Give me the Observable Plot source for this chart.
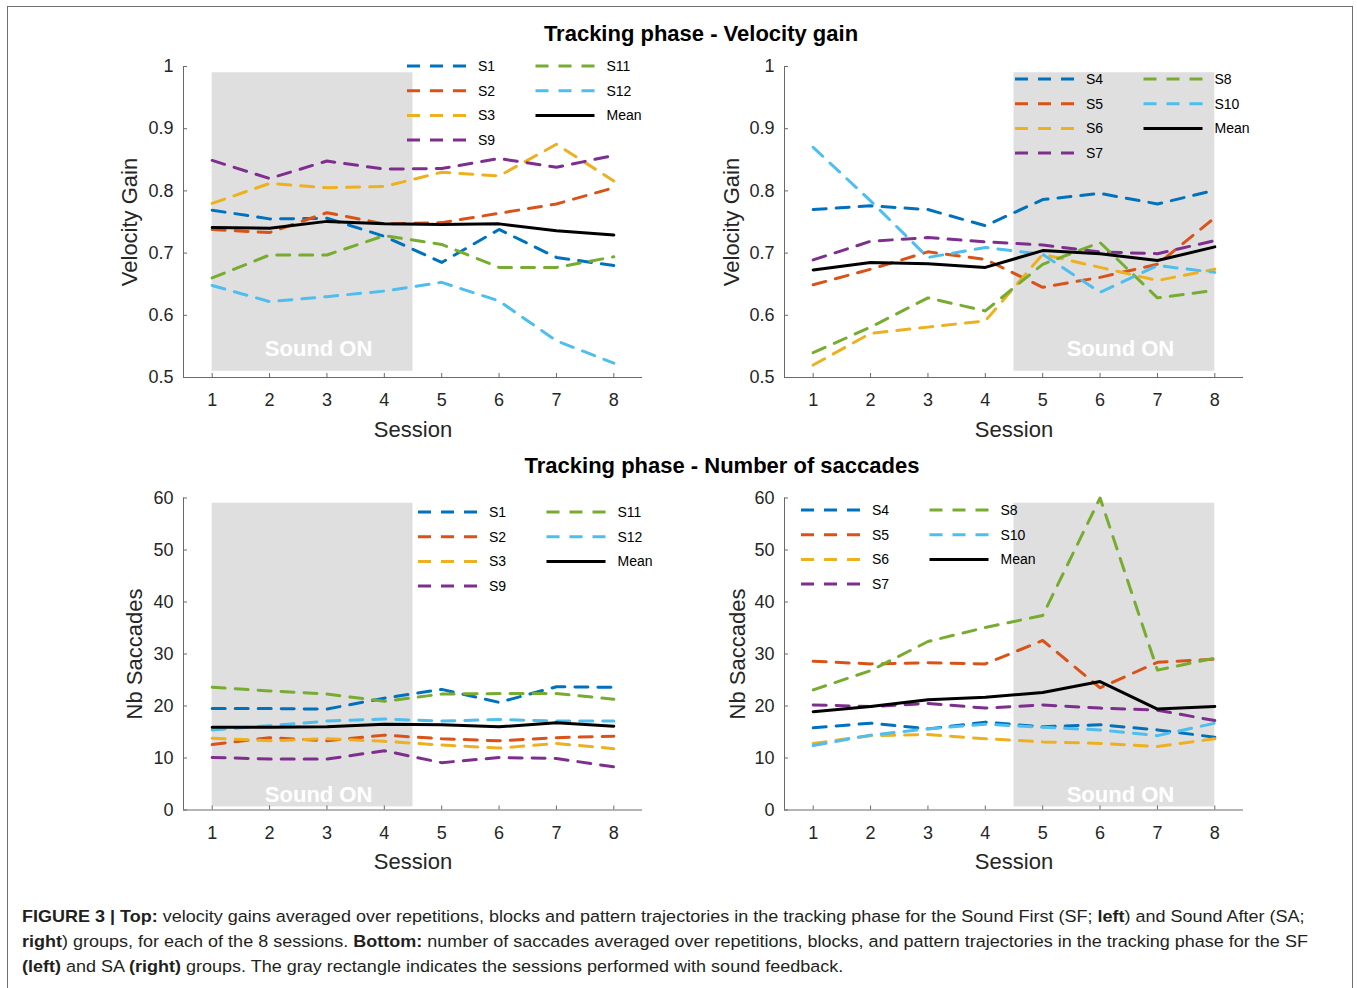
<!DOCTYPE html>
<html>
<head>
<meta charset="utf-8">
<script src="https://cdn.jsdelivr.net/npm/d3@7"></script>
<script src="https://cdn.jsdelivr.net/npm/@observablehq/plot@0.6"></script>
<style>
  html, body { margin: 0; padding: 0; background: #fff; }
  #page { position: relative; width: 1357px; height: 988px; overflow: hidden; background: #fff; }
  #frame { position: absolute; left: 7px; top: 6px; width: 1346px; height: 1100px; border: 1.5px solid #707070; box-sizing: border-box; }
  .panel { position: absolute; }
  #overlay { position: absolute; left: 0; top: 0; z-index: 5; pointer-events: none; }
</style>
</head>
<body>
<div id="page">
  <div id="frame"></div>
  <div id="tl" class="panel" style="left:90px; top:50px;"></div>
  <div id="tr" class="panel" style="left:690px; top:50px;"></div>
  <div id="bl" class="panel" style="left:90px; top:480px;"></div>
  <div id="br" class="panel" style="left:690px; top:480px;"></div>
  <svg id="overlay" width="1357" height="988"></svg>
</div>
<script>
// ---------- data ----------
const sessions = [1, 2, 3, 4, 5, 6, 7, 8];
const gainTicks = [0.5, 0.6, 0.7, 0.8, 0.9, 1];
const saccTicks = [0, 10, 20, 30, 40, 50, 60];
const sfSubjects = ["S1", "S2", "S3", "S9", "S11", "S12"];
const saSubjects = ["S4", "S5", "S6", "S7", "S8", "S10"];
const seriesColors = ["#0072BD", "#D95319", "#EDB120", "#7E2F8E", "#77AC30", "#4DBEEE"];
const titles = ["Tracking phase - Velocity gain", "Tracking phase - Number of saccades"];

// Velocity gain, Sound First group
const gainS1  = [0.769, 0.755, 0.756, 0.727, 0.685, 0.738, 0.693, 0.680];
const gainS2  = [0.738, 0.733, 0.765, 0.747, 0.749, 0.764, 0.779, 0.805];
const gainS3  = [0.780, 0.812, 0.805, 0.807, 0.830, 0.824, 0.875, 0.816];
const gainS9  = [0.849, 0.820, 0.848, 0.835, 0.836, 0.852, 0.838, 0.857];
const gainS11 = [0.660, 0.697, 0.697, 0.728, 0.714, 0.677, 0.677, 0.694];
const gainS12 = [0.648, 0.622, 0.630, 0.639, 0.653, 0.623, 0.559, 0.523];
const gainMeanSF = [0.741, 0.740, 0.751, 0.747, 0.746, 0.747, 0.736, 0.729];

// Velocity gain, Sound After group
const gainS4  = [0.770, 0.776, 0.770, 0.744, 0.786, 0.796, 0.779, 0.801];
const gainS5  = [0.649, 0.674, 0.702, 0.690, 0.645, 0.661, 0.682, 0.757];
const gainS6  = [0.520, 0.571, 0.581, 0.591, 0.698, 0.677, 0.656, 0.674];
const gainS7  = [0.689, 0.719, 0.725, 0.718, 0.713, 0.702, 0.699, 0.720];
const gainS8  = [0.540, 0.581, 0.628, 0.607, 0.682, 0.717, 0.628, 0.640];
const gainS10 = [0.870, 0.784, 0.693, 0.709, 0.698, 0.637, 0.680, 0.669];
const gainMeanSA = [0.673, 0.685, 0.683, 0.677, 0.704, 0.699, 0.688, 0.710];

// Number of saccades, Sound First group
const saccS1  = [19.5, 19.5, 19.4, 21.5, 23.2, 20.7, 23.7, 23.6];
const saccS2  = [12.6, 13.9, 13.3, 14.4, 13.7, 13.3, 13.9, 14.2];
const saccS3  = [13.8, 13.3, 13.7, 13.2, 12.5, 11.9, 12.8, 11.8];
const saccS9  = [10.1, 9.8, 9.8, 11.4, 9.1, 10.1, 9.9, 8.3];
const saccS11 = [23.6, 22.9, 22.3, 20.9, 22.3, 22.4, 22.4, 21.3];
const saccS12 = [15.4, 16.2, 17.1, 17.5, 17.1, 17.4, 17.1, 17.1];
const saccMeanSF = [15.9, 15.9, 16.0, 16.5, 16.4, 16.0, 16.8, 16.1];

// Number of saccades, Sound After group
const saccS4  = [15.8, 16.7, 15.6, 16.9, 16.0, 16.4, 15.4, 14.0];
const saccS5  = [28.6, 28.1, 28.3, 28.1, 32.6, 23.5, 28.4, 29.0];
const saccS6  = [12.8, 14.3, 14.5, 13.7, 13.1, 12.8, 12.2, 13.7];
const saccS7  = [20.2, 19.9, 20.5, 19.6, 20.2, 19.6, 19.2, 17.2];
const saccS8  = [23.1, 26.8, 32.4, 35.1, 37.4, 60.0, 26.9, 29.2];
const saccS10 = [12.4, 14.4, 15.6, 16.5, 15.9, 15.4, 14.3, 16.7];
const saccMeanSA = [18.9, 19.9, 21.2, 21.7, 22.6, 24.7, 19.4, 19.9];

// Sessions with sound feedback (shaded)
const soundOnSF = [1, 4.5];
const soundOnSA = [4.5, 8];
const shadeGain = [0.51, 0.99];
const shadeSacc = [0.6, 59];

// Caption (segments: [text, bold])
const captionLine1 = [["FIGURE 3 | Top:", true], [" velocity gains averaged over repetitions, blocks and pattern trajectories in the tracking phase for the Sound First (SF; ", false], ["left", true], [") and Sound After (SA;", false]];
const captionLine2 = [["right", true], [") groups, for each of the 8 sessions. ", false], ["Bottom:", true], [" number of saccades averaged over repetitions, blocks, and pattern trajectories in the tracking phase for the SF", false]];
const captionLine3 = [["(left)", true], [" and SA ", false], ["(right)", true], [" groups. The gray rectangle indicates the sessions performed with sound feedback.", false]];

// ---------- drawing ----------
const axisColor = "#6a6a6a";
const dash = "13,10";
const fontFamily = '"Liberation Sans", Arial, Helvetica, sans-serif';

function makePanel(cfg) {
  const {series, mean, yDomain, yTicks, shade, shadeY, yLabel, W, H, m, labelDx, soundDy} = cfg;
  const frameW = W - m.left - m.right;
  const frameH = H - m.top - m.bottom;
  const marks = [
    Plot.rect([{x1: shade[0], x2: shade[1], y1: shadeY[0], y2: shadeY[1]}],
      {x1: "x1", x2: "x2", y1: "y1", y2: "y2", fill: "#dfdfdf"}),
    Plot.text([shade], {x: d => (d[0] + d[1]) / 2, text: () => "Sound ON", frameAnchor: "bottom",
      lineAnchor: "bottom", textAnchor: "middle", dy: soundDy, dx: 6, fill: "white", fontWeight: "bold", fontSize: 22}),
    Plot.ruleX([0.5], {stroke: axisColor, strokeWidth: 1}),
    Plot.ruleY([yDomain[0]], {stroke: axisColor, strokeWidth: 1}),
    Plot.tickX(sessions, {x: d => d, insetTop: frameH - 4, stroke: axisColor}),
    Plot.tickY(yTicks, {y: d => d, insetRight: frameW - 4, stroke: axisColor}),
    Plot.axisX(sessions, {tickSize: 0, tickPadding: 16, label: null, fontSize: 18, tickFormat: d => String(d)}),
    Plot.axisY(yTicks, {tickSize: 0, tickPadding: 10, label: null, fontSize: 18, tickFormat: d => String(d)}),
    Plot.text([yLabel], {text: d => d, frameAnchor: "left", textAnchor: "middle", rotate: -90, lineAnchor: "bottom", dx: labelDx, fontSize: 22}),
    Plot.text(["Session"], {text: d => d, frameAnchor: "bottom", textAnchor: "middle", lineAnchor: "bottom", dy: 59, fontSize: 22})
  ];
  series.forEach((s, k) => {
    marks.push(Plot.line(sessions.map((x, i) => ({session: x, value: s.values[i]})),
      {x: "session", y: "value", stroke: seriesColors[k], strokeWidth: 3, strokeDasharray: dash}));
  });
  marks.push(Plot.line(sessions.map((x, i) => ({session: x, value: mean[i]})),
    {x: "session", y: "value", stroke: "#000", strokeWidth: 3}));
  return Plot.plot({
    width: W, height: H,
    marginLeft: m.left, marginRight: m.right, marginTop: m.top, marginBottom: m.bottom,
    x: {domain: [0.5, 8.5]},
    y: {domain: yDomain},
    style: {fontFamily, fontSize: "18px", color: "#262626", background: "transparent", overflow: "visible"},
    marks
  });
}

const sfGain = [gainS1, gainS2, gainS3, gainS9, gainS11, gainS12].map((v, i) => ({name: sfSubjects[i], values: v}));
const saGain = [gainS4, gainS5, gainS6, gainS7, gainS8, gainS10].map((v, i) => ({name: saSubjects[i], values: v}));
const sfSacc = [saccS1, saccS2, saccS3, saccS9, saccS11, saccS12].map((v, i) => ({name: sfSubjects[i], values: v}));
const saSacc = [saccS4, saccS5, saccS6, saccS7, saccS8, saccS10].map((v, i) => ({name: saSubjects[i], values: v}));

document.getElementById("tl").append(makePanel({
  series: sfGain, mean: gainMeanSF, yDomain: [0.5, 1], yTicks: gainTicks, shade: soundOnSF, shadeY: shadeGain,
  yLabel: "Velocity Gain", W: 570, H: 420, m: {left: 93, right: 18, top: 16, bottom: 93}, labelDx: -47, soundDy: -22
}));
document.getElementById("tr").append(makePanel({
  series: saGain, mean: gainMeanSA, yDomain: [0.5, 1], yTicks: gainTicks, shade: soundOnSA, shadeY: shadeGain,
  yLabel: "Velocity Gain", W: 570, H: 420, m: {left: 94, right: 17, top: 16, bottom: 93}, labelDx: -46, soundDy: -22
}));
document.getElementById("bl").append(makePanel({
  series: sfSacc, mean: saccMeanSF, yDomain: [0, 60], yTicks: saccTicks, shade: soundOnSF, shadeY: shadeSacc,
  yLabel: "Nb Saccades", W: 570, H: 420, m: {left: 93, right: 18, top: 17.5, bottom: 90.5}, labelDx: -42, soundDy: -8
}));
document.getElementById("br").append(makePanel({
  series: saSacc, mean: saccMeanSA, yDomain: [0, 60], yTicks: saccTicks, shade: soundOnSA, shadeY: shadeSacc,
  yLabel: "Nb Saccades", W: 570, H: 420, m: {left: 94, right: 17, top: 17.5, bottom: 90.5}, labelDx: -40, soundDy: -8
}));

// ---------- titles, legends, caption ----------
const svg = d3.select("#overlay");
svg.append("text").attr("x", 701).attr("y", 41).attr("text-anchor", "middle")
  .attr("font-family", fontFamily).attr("font-weight", "bold").attr("font-size", 22).attr("fill", "#000").text(titles[0]);
svg.append("text").attr("x", 722).attr("y", 473).attr("text-anchor", "middle")
  .attr("font-family", fontFamily).attr("font-weight", "bold").attr("font-size", 22).attr("fill", "#000").text(titles[1]);

function legend(x0, y0, names) {
  const items = names.map((n, i) => ({name: n, color: seriesColors[i], dash: true}));
  items.push({name: "Mean", color: "#000", dash: false});
  const g = svg.append("g");
  items.forEach((it, i) => {
    const col = i < 4 ? 0 : 1;
    const row = i < 4 ? i : i - 4;
    const x = x0 + col * 128.5;
    const y = y0 + row * 24.7;
    g.append("line").attr("x1", x).attr("x2", x + 59).attr("y1", y).attr("y2", y)
      .attr("stroke", it.color).attr("stroke-width", 3).attr("stroke-dasharray", it.dash ? dash : null);
    g.append("text").attr("x", x + 71).attr("y", y + 5).attr("font-family", fontFamily)
      .attr("font-size", 14).attr("fill", "#000").text(it.name);
  });
}
legend(407, 66, sfSubjects);
legend(1015, 79, saSubjects);
legend(418, 512, sfSubjects);
legend(801, 510, saSubjects);

// Caption: condensed sans, line 1 spans x 22 -> 1305
const capLines = [captionLine1, captionLine2, captionLine3];
const capBaselines = [922, 947, 972];
const capNodes = capLines.map((segs, li) => {
  const t = svg.append("text").attr("x", 0).attr("y", 0)
    .attr("font-family", fontFamily).attr("font-size", 16.5).attr("fill", "#231f20")
    .style("white-space", "pre");
  segs.forEach(([s, b]) => t.append("tspan").attr("font-weight", b ? "bold" : null).text(s));
  return t;
});
const line1Width = capNodes[0].node().getComputedTextLength();
const sx = (1305 - 22) / line1Width;
capNodes.forEach((t, i) => t.attr("transform", `translate(22,${capBaselines[i]}) scale(${sx},1)`));
</script>
</body>
</html>
